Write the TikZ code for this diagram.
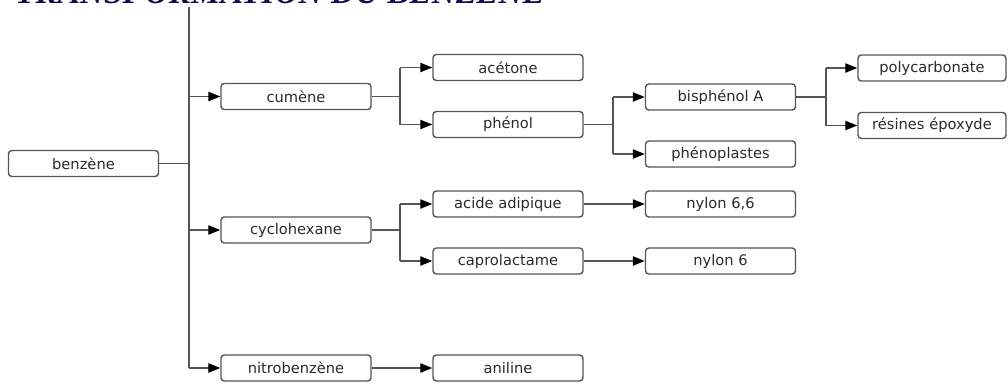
\documentclass[tikz,border=0pt]{standalone}
\usepackage{fontspec}
\usetikzlibrary{arrows.meta}
\newfontfamily\boxfont{DejaVu Sans}
\newfontfamily\titlefont{Liberation Serif}
\definecolor{linegray}{HTML}{555555}
\definecolor{boxgray}{HTML}{555555}
\definecolor{textgray}{HTML}{2A2A2A}
\definecolor{navy}{HTML}{0D0D4F}
\begin{document}
\begin{tikzpicture}[x=0.75pt,y=-0.75pt,
  chembox/.style={draw=boxgray, line width=1.1pt, rounded corners=2.5pt,
    minimum width=112.5pt, minimum height=19.5pt, inner sep=0pt,
    text=textgray, font=\boxfont\fontsize{11}{13}\selectfont},
  link/.style={draw=linegray, line width=1pt},
  flow/.style={link, -{Triangle[length=9pt,width=7pt,fill=black,color=black]}}]
\useasboundingbox (0,0) rectangle (1008,383);
\clip (0,0) rectangle (1008,383);

% heading, cut by the top edge
\node[anchor=base west, inner sep=0pt, text=navy,
  font=\titlefont\bfseries\itshape\fontsize{25}{30}\selectfont]
  (title) at (15,3) {TRANSFORMATION DU BENZENE};

% boxes
\node[chembox] (benzene) at (83.5,163.5) {benzène};
\node[chembox] (cumene) at (296,96.5) {cumène};
\node[chembox] (cyclo) at (296,230) {cyclohexane};
\node[chembox] (nitro) at (296,368) {nitrobenzène};
\node[chembox] (acetone) at (508,67.5) {acétone};
\node[chembox] (phenol) at (508,124.5) {phénol};
\node[chembox] (adipique) at (508,204) {acide adipique};
\node[chembox] (capro) at (508,261) {caprolactame};
\node[chembox] (aniline) at (508,368) {aniline};
\node[chembox] (bisA) at (720.5,97) {bisphénol A};
\node[chembox] (phenoplast) at (720.5,154) {phénoplastes};
\node[chembox] (nylon66) at (720.5,204) {nylon 6,6};
\node[chembox] (nylon6) at (720.5,261) {nylon 6};
\node[chembox, minimum width=111pt] (polyc) at (932,68) {polycarbonate};
\node[chembox, minimum width=111pt] (epoxy) at (932,125.5) {résines époxyde};

% junction points
\coordinate (trunktop) at (189,7);
\coordinate (trunk) at (189,163.5);
\coordinate (jcum) at (400,96.5);
\coordinate (jcyc) at (400,230);
\coordinate (jphe) at (613,124.5);
\coordinate (jbis) at (826,97);

% main trunk from benzene
\draw[link] (benzene.east) -- (trunk);
\draw[link] (trunktop) -- (trunktop |- nitro);
\draw[flow] (trunk |- cumene) -- (cumene.west);
\draw[flow] (trunk |- cyclo) -- (cyclo.west);
\draw[flow] (trunk |- nitro) -- (nitro.west);

% cumene branch
\draw[link] (cumene.east) -- (jcum);
\draw[link] (jcum |- acetone) -- (jcum |- phenol);
\draw[flow] (jcum |- acetone) -- (acetone.west);
\draw[flow] (jcum |- phenol) -- (phenol.west);

% phenol branch
\draw[link] (phenol.east) -- (jphe);
\draw[link] (jphe |- bisA) -- (jphe |- phenoplast);
\draw[flow] (jphe |- bisA) -- (bisA.west);
\draw[flow] (jphe |- phenoplast) -- (phenoplast.west);

% bisphenol A branch
\draw[link] (bisA.east) -- (jbis);
\draw[link] (jbis |- polyc) -- (jbis |- epoxy);
\draw[flow] (jbis |- polyc) -- (polyc.west);
\draw[flow] (jbis |- epoxy) -- (epoxy.west);

% cyclohexane branch
\draw[link] (cyclo.east) -- (jcyc);
\draw[link] (jcyc |- adipique) -- (jcyc |- capro);
\draw[flow] (jcyc |- adipique) -- (adipique.west);
\draw[flow] (jcyc |- capro) -- (capro.west);
\draw[flow] (adipique) -- (nylon66);
\draw[flow] (capro) -- (nylon6);

% nitrobenzene
\draw[flow] (nitro) -- (aniline);
\end{tikzpicture}
\end{document}
